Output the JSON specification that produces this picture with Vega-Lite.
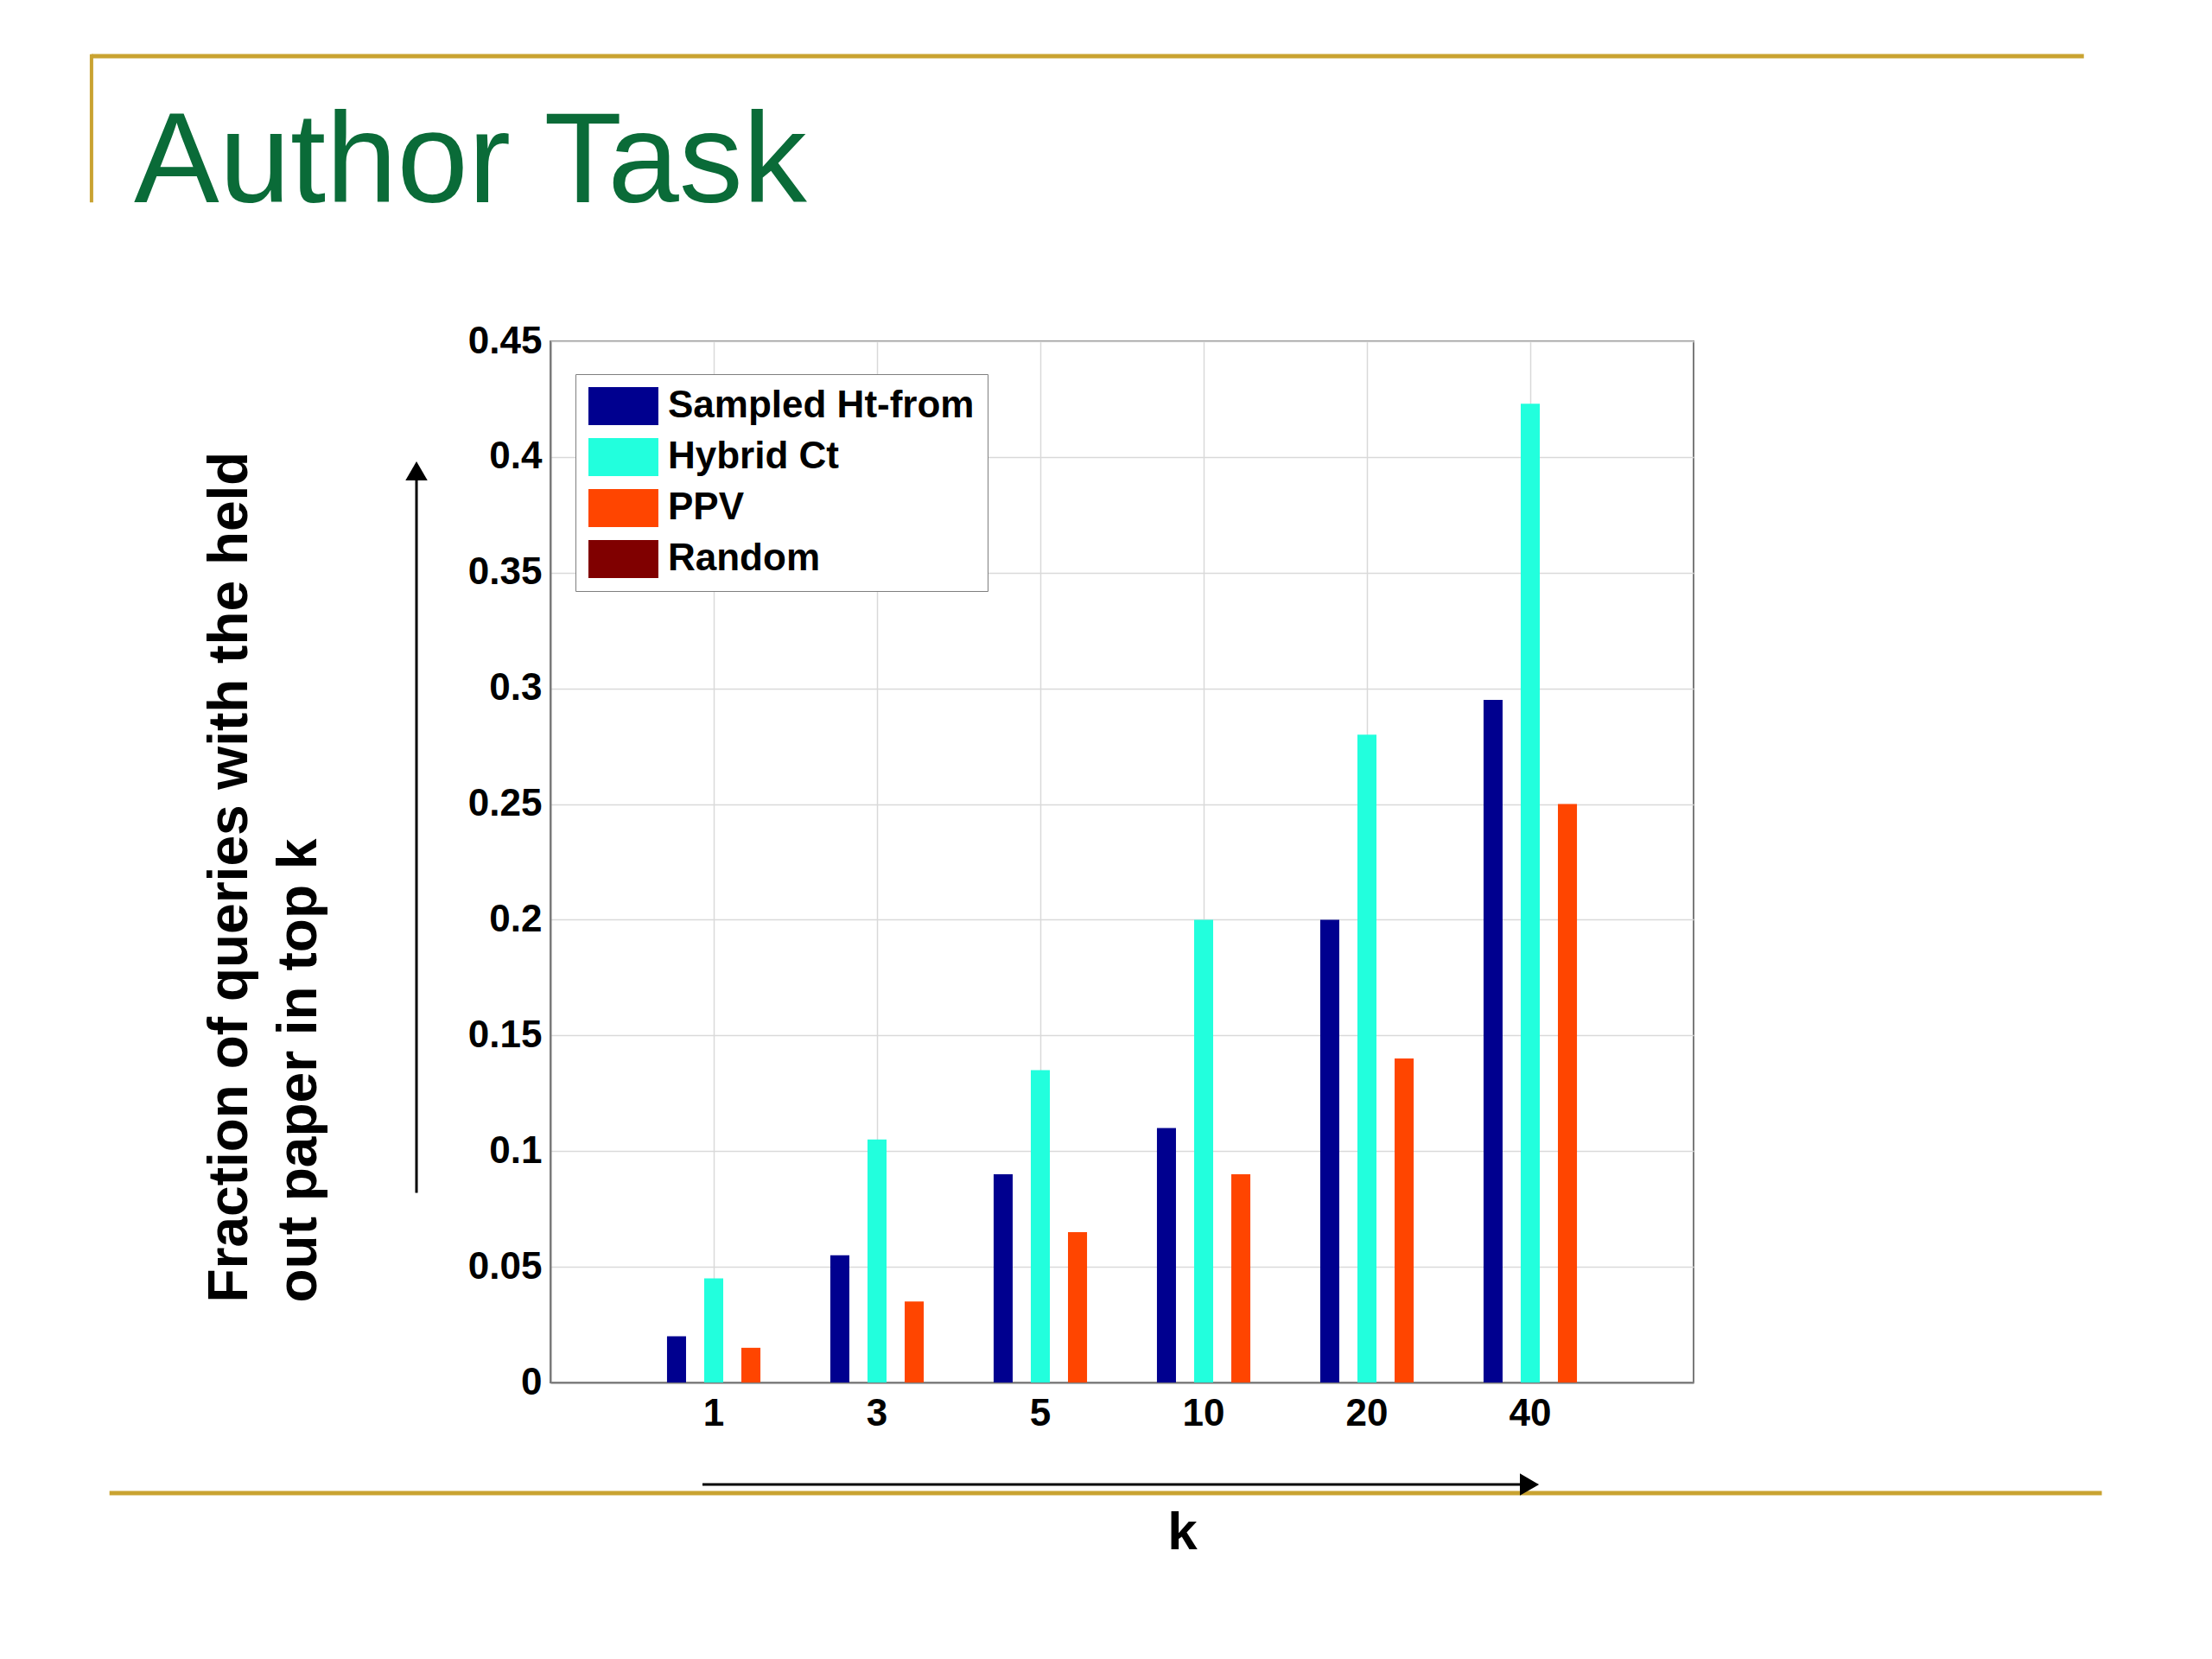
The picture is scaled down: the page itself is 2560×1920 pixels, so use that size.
{
  "$schema": "https://vega.github.io/schema/vega-lite/v6.json",
  "width": 1323,
  "height": 1205,
  "autosize": {"type": "none"},
  "padding": {"left": 637, "top": 395, "right": 600, "bottom": 320},
  "background": "white",
  "title": {
    "text": "Author Task",
    "anchor": "start",
    "frame": "group",
    "orient": "top",
    "baseline": "alphabetic",
    "offset": 0,
    "dx": -482,
    "dy": 321,
    "fontSize": 148,
    "font": "Liberation Sans",
    "fontWeight": "normal",
    "color": "#0a6b38"
  },
  "config": {
    "view": {"stroke": "#7a7a7a", "strokeWidth": 2},
    "axis": {
      "domainColor": "#7a7a7a",
      "domainWidth": 2,
      "gridColor": "#d9d9d9",
      "gridWidth": 1.5,
      "labelColor": "black",
      "labelFont": "Liberation Sans",
      "labelFontWeight": "bold",
      "labelFontSize": 44,
      "titleFont": "Liberation Sans",
      "titleColor": "black",
      "titleFontWeight": "bold",
      "ticks": false
    }
  },
  "resolve": {"scale": {"x": "independent"}},
  "layer": [
    {
      "data": {
        "values": [
          {"k": "1", "series": "Sampled Ht-from", "value": 0.02},
          {"k": "1", "series": "Hybrid Ct", "value": 0.045},
          {"k": "1", "series": "PPV", "value": 0.015},
          {"k": "3", "series": "Sampled Ht-from", "value": 0.055},
          {"k": "3", "series": "Hybrid Ct", "value": 0.105},
          {"k": "3", "series": "PPV", "value": 0.035},
          {"k": "5", "series": "Sampled Ht-from", "value": 0.09},
          {"k": "5", "series": "Hybrid Ct", "value": 0.135},
          {"k": "5", "series": "PPV", "value": 0.065},
          {"k": "10", "series": "Sampled Ht-from", "value": 0.11},
          {"k": "10", "series": "Hybrid Ct", "value": 0.2},
          {"k": "10", "series": "PPV", "value": 0.09},
          {"k": "20", "series": "Sampled Ht-from", "value": 0.2},
          {"k": "20", "series": "Hybrid Ct", "value": 0.28},
          {"k": "20", "series": "PPV", "value": 0.14},
          {"k": "40", "series": "Sampled Ht-from", "value": 0.295},
          {"k": "40", "series": "Hybrid Ct", "value": 0.423},
          {"k": "40", "series": "PPV", "value": 0.25}
        ]
      },
      "mark": {"type": "bar", "clip": false},
      "encoding": {
        "x": {
          "field": "k",
          "type": "ordinal",
          "sort": ["1", "3", "5", "10", "20", "40"],
          "scale": {"paddingInner": 0, "paddingOuter": 0.5},
          "axis": {
            "title": "k",
            "bandPosition": 0.5,
            "grid": true,
            "labelAngle": 0,
            "labelPadding": 14,
            "titleFontSize": 62,
            "titleX": 731,
            "titleY": 192,
            "titleAlign": "center",
            "titleBaseline": "alphabetic"
          }
        },
        "xOffset": {
          "field": "series",
          "type": "nominal",
          "sort": ["Sampled Ht-from", "Hybrid Ct", "PPV"],
          "scale": {"domain": ["Sampled Ht-from", "Hybrid Ct", "PPV"], "paddingInner": 0.488, "paddingOuter": 0.94}
        },
        "y": {
          "field": "value",
          "type": "quantitative",
          "scale": {"domain": [0, 0.45], "nice": false},
          "axis": {
            "title": ["Fraction of queries with the held", "out paper in top k"],
            "values": [0, 0.05, 0.1, 0.15, 0.2, 0.25, 0.3, 0.35, 0.4, 0.45],
            "format": "~g",
            "grid": true,
            "labelPadding": 10,
            "titleFontSize": 64,
            "titleLineHeight": 80,
            "titleAngle": 270,
            "titleAlign": "left",
            "titleBaseline": "top",
            "titleX": -403,
            "titleY": 1112
          }
        },
        "color": {
          "field": "series",
          "type": "nominal",
          "scale": {
            "domain": ["Sampled Ht-from", "Hybrid Ct", "PPV", "Random"],
            "range": ["#00008f", "#22ffdd", "#ff4500", "#800000"]
          },
          "legend": {
            "title": null,
            "orient": "none",
            "legendX": 29,
            "legendY": 38,
            "direction": "vertical",
            "symbolType": "M-1,-1H2.68V1H-1Z",
            "symbolSize": 1936,
            "symbolStrokeWidth": 0,
            "symbolOpacity": 1,
            "labelFont": "Liberation Sans",
            "labelFontSize": 44,
            "labelFontWeight": "bold",
            "labelColor": "black",
            "labelOffset": 48,
            "labelLimit": 800,
            "rowPadding": 15,
            "padding": 15,
            "strokeColor": "#7f7f7f",
            "fillColor": "white"
          }
        }
      }
    },
    {
      "data": {"values": [{}]},
      "mark": {"type": "rule", "color": "#c9a331", "strokeWidth": 5, "clip": false},
      "encoding": {
        "x": {"datum": -2.81, "type": "quantitative", "scale": {"domain": [0, 7], "nice": false, "zero": false}, "axis": null},
        "x2": {"datum": 9.39},
        "y": {"datum": 0.5732, "type": "quantitative"}
      }
    },
    {
      "data": {"values": [{}]},
      "mark": {"type": "rule", "color": "#c9a331", "strokeWidth": 4, "clip": false},
      "encoding": {
        "x": {"datum": -2.81, "type": "quantitative", "scale": {"domain": [0, 7], "nice": false, "zero": false}, "axis": null},
        "y": {"datum": 0.5741, "type": "quantitative"},
        "y2": {"datum": 0.51}
      }
    },
    {
      "data": {"values": [{}]},
      "mark": {"type": "rule", "color": "#c9a331", "strokeWidth": 5, "clip": false},
      "encoding": {
        "x": {"datum": -2.7, "type": "quantitative", "scale": {"domain": [0, 7], "nice": false, "zero": false}, "axis": null},
        "x2": {"datum": 9.5},
        "y": {"datum": -0.0478, "type": "quantitative"}
      }
    },
    {
      "data": {"values": [{}]},
      "mark": {"type": "rule", "color": "black", "strokeWidth": 3, "clip": false},
      "encoding": {
        "x": {"datum": -0.82, "type": "quantitative", "scale": {"domain": [0, 7], "nice": false, "zero": false}, "axis": null},
        "y": {"datum": 0.082, "type": "quantitative"},
        "y2": {"datum": 0.39}
      }
    },
    {
      "data": {"values": [{}]},
      "mark": {"type": "point", "shape": "triangle-up", "filled": true, "color": "black", "opacity": 1, "size": 650, "clip": false},
      "encoding": {
        "x": {"datum": -0.82, "type": "quantitative", "scale": {"domain": [0, 7], "nice": false, "zero": false}, "axis": null},
        "y": {"datum": 0.394, "type": "quantitative"}
      }
    },
    {
      "data": {"values": [{}]},
      "mark": {"type": "rule", "color": "black", "strokeWidth": 3, "clip": false},
      "encoding": {
        "x": {"datum": 0.931, "type": "quantitative", "scale": {"domain": [0, 7], "nice": false, "zero": false}, "axis": null},
        "x2": {"datum": 5.99},
        "y": {"datum": -0.0441, "type": "quantitative"}
      }
    },
    {
      "data": {"values": [{}]},
      "mark": {"type": "point", "shape": "triangle-right", "filled": true, "color": "black", "opacity": 1, "size": 650, "clip": false},
      "encoding": {
        "x": {"datum": 5.995, "type": "quantitative", "scale": {"domain": [0, 7], "nice": false, "zero": false}, "axis": null},
        "y": {"datum": -0.0441, "type": "quantitative"}
      }
    }
  ]
}
